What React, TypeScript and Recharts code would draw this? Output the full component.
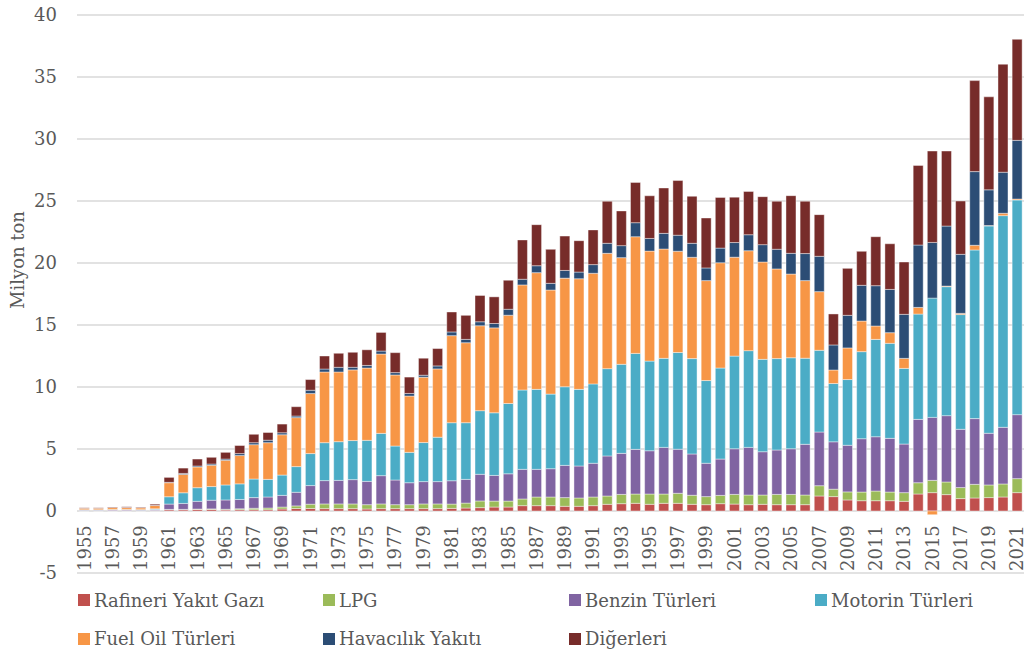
import React from 'react';
import { BarChart, Bar, XAxis, YAxis, CartesianGrid, Legend } from 'recharts';

const YEARS: string[] = [];
for (let y = 1955; y <= 2021; y++) YEARS.push(String(y));

const RAFINERI = [0.02,0.02,0.02,0.02,0.02,0.03,0.1,0.1,0.13,0.13,0.08,0.1,0.1,0.1,0.16,0.2,0.2,0.19,0.19,0.19,0.16,0.19,0.19,0.19,0.19,0.19,0.21,0.24,0.27,0.32,0.32,0.43,0.43,0.43,0.38,0.38,0.43,0.54,0.59,0.62,0.54,0.62,0.62,0.54,0.51,0.59,0.56,0.51,0.54,0.51,0.51,0.51,1.21,1.16,0.89,0.83,0.83,0.83,0.78,1.37,1.48,1.32,1.0,1.05,1.08,1.13,1.48];
const LPG = [0,0,0,0,0,0.01,0.03,0.03,0.03,0.04,0.06,0.08,0.12,0.14,0.16,0.21,0.35,0.38,0.38,0.38,0.35,0.38,0.32,0.32,0.38,0.38,0.35,0.4,0.54,0.48,0.48,0.54,0.7,0.7,0.7,0.67,0.7,0.67,0.75,0.75,0.83,0.75,0.81,0.73,0.65,0.67,0.78,0.78,0.75,0.83,0.83,0.78,0.83,0.6,0.65,0.7,0.78,0.7,0.7,0.91,0.99,1.02,0.89,1.1,1.02,1.05,1.13];
const BENZIN = [0.05,0.05,0.06,0.06,0.05,0.08,0.43,0.48,0.62,0.7,0.75,0.75,0.86,0.89,0.94,1.1,1.5,1.88,1.9,1.96,1.88,2.28,1.99,1.77,1.8,1.8,1.88,1.91,2.15,2.07,2.2,2.39,2.23,2.28,2.6,2.58,2.72,3.23,3.31,3.6,3.49,3.76,3.55,3.33,2.69,2.93,3.68,3.84,3.49,3.58,3.68,4.09,4.33,3.82,3.76,4.3,4.38,4.33,3.92,5.11,5.08,5.35,4.7,5.3,4.17,4.57,5.16];
const MOTORIN = [0.03,0.03,0.04,0.04,0.04,0.06,0.59,0.86,1.1,1.1,1.21,1.26,1.5,1.42,1.64,2.07,2.58,3.06,3.12,3.15,3.31,3.41,2.74,2.45,3.15,3.58,4.68,4.57,5.13,5.05,5.67,6.4,6.45,6.02,6.34,6.18,6.4,7.04,7.18,7.74,7.23,7.18,7.8,7.69,6.67,7.34,7.47,7.8,7.45,7.37,7.34,6.94,6.59,4.7,5.3,7.02,7.85,7.66,6.1,8.49,9.62,10.4,9.25,13.6,16.72,17.07,17.31];
const FUEL_OIL = [0.12,0.12,0.15,0.15,0.14,0.26,1.13,1.48,1.67,1.72,1.99,2.28,2.77,2.96,3.25,3.95,4.84,5.7,5.62,5.7,5.83,6.4,5.73,4.54,5.27,5.51,7.02,6.45,6.85,6.85,7.12,8.47,9.41,8.39,8.76,8.92,8.92,9.3,8.6,9.41,8.87,8.82,8.17,8.17,8.06,8.49,7.98,8.06,7.85,7.23,6.75,6.26,4.73,1.09,2.55,2.47,1.08,0.86,0.81,0.54,-0.3,0.05,0.1,0.38,0.03,0.19,0.08];
const HAVACILIK = [0,0,0,0.01,0,0.01,0.03,0.08,0.08,0.1,0.1,0.16,0.16,0.2,0.16,0.13,0.27,0.24,0.38,0.21,0.21,0.24,0.19,0.21,0.16,0.24,0.3,0.27,0.32,0.35,0.48,0.46,0.56,0.54,0.62,0.54,0.7,0.81,0.97,1.13,1.02,1.26,1.29,1.13,1.02,1.18,1.18,1.29,1.4,1.59,1.67,2.18,2.85,2.02,2.63,2.88,3.25,3.49,3.55,5.03,4.49,4.84,4.76,5.94,2.88,3.31,4.73];
const DIGERLERI = [0.04,0.04,0.05,0.07,0.05,0.1,0.4,0.43,0.56,0.54,0.54,0.65,0.67,0.62,0.7,0.75,0.86,1.05,1.13,1.21,1.26,1.5,1.61,1.32,1.37,1.4,1.61,1.94,2.12,2.15,2.34,3.17,3.31,2.74,2.77,2.53,2.8,3.39,2.8,3.25,3.44,3.66,4.41,3.79,4.03,4.09,3.66,3.49,3.87,3.87,4.65,4.22,3.36,2.5,3.79,2.74,3.95,3.68,4.22,6.42,7.37,6.05,4.3,7.34,7.5,8.71,8.15];

const Y_TICKS = [-5, 0, 5, 10, 15, 20, 25, 30, 35, 40];

const SERIES = [
  { key: 'raf', name: 'Rafineri Yakıt Gazı', color: '#C0504D', values: RAFINERI },
  { key: 'lpg', name: 'LPG', color: '#9BBB59', values: LPG },
  { key: 'benz', name: 'Benzin Türleri', color: '#8064A2', values: BENZIN },
  { key: 'mot', name: 'Motorin Türleri', color: '#4BACC6', values: MOTORIN },
  { key: 'fo', name: 'Fuel Oil Türleri', color: '#F79646', values: FUEL_OIL },
  { key: 'hav', name: 'Havacılık Yakıtı', color: '#2C4D75', values: HAVACILIK },
  { key: 'dig', name: 'Diğerleri', color: '#772C2A', values: DIGERLERI },
];

const LEGEND_ORDER = ['raf', 'lpg', 'benz', 'mot', 'fo', 'hav', 'dig'];

const data = YEARS.map((year, i) => {
  const row: any = { year };
  SERIES.forEach((s) => { row[s.key] = s.values[i]; });
  return row;
});

const FONT = '"DejaVu Serif", serif';
const TEXT = '#595959';

const XTick = (props: any) => {
  const { x, y, payload } = props;
  const ay = y - 2;
  return (
    <text x={x} y={ay} transform={`rotate(-90 ${x} ${ay})`} textAnchor="start" dy="0.36em"
      fontFamily={FONT} fontSize={18} fill={TEXT}>{payload.value}</text>
  );
};

const renderLegend = () => {
  const cols = [78, 323, 569, 815];
  return (
    <div style={{ position: 'relative', width: 1024, height: 50, fontFamily: FONT, fontSize: 18, color: TEXT }}>
      {LEGEND_ORDER.map((k, i) => {
        const s = SERIES.find((q) => q.key === k)!;
        const col = i < 4 ? i : i - 4;
        const row = i < 4 ? 0 : 1;
        return (
          <div key={k} style={{ position: 'absolute', left: cols[col], top: -3 + row * 38.5 - 11, height: 22, display: 'flex', alignItems: 'center', whiteSpace: 'nowrap' }}>
            <span style={{ display: 'inline-block', width: 12, height: 12, background: s.color, marginRight: 4 }} />
            <span>{s.name}</span>
          </div>
        );
      })}
    </div>
  );
};

export default function App() {
  return (
    <div style={{ position: 'absolute', left: 0, top: 0, width: 1024, height: 653, background: '#fff' }}>
      <BarChart width={1024} height={653} data={data} stackOffset="sign" barCategoryGap="16%"
        margin={{ top: 15, right: 0, left: 0, bottom: 0 }}>
        <CartesianGrid vertical={false} stroke="#d9d9d9" strokeWidth={1.5} />
        <XAxis dataKey="year" interval={1} height={30} axisLine={false} tickLine={false}
          tickSize={0} tickMargin={0} tick={<XTick />} />
        <YAxis width={77} domain={[-5, 40]} ticks={Y_TICKS} axisLine={false} tickLine={false}
          tickSize={0} tickMargin={20} allowDataOverflow
          tick={{ fontFamily: FONT, fontSize: 18, fill: TEXT }}
          label={{
            content: (p: any) => {
              const vb = p.viewBox || { x: 0, y: 15, width: 77, height: 558 };
              const cx = vb.x + 18;
              const cy = vb.y + vb.height / 2 - 34;
              return (
                <text x={cx} y={cy} transform={`rotate(-90 ${cx} ${cy})`} textAnchor="middle" dy="0.36em"
                  fontFamily={FONT} fontSize={18} fill={TEXT}>Milyon ton</text>
              );
            },
          }} />
        <Legend verticalAlign="bottom" content={renderLegend} wrapperStyle={{ left: 0, width: 1024 }} />
        {SERIES.map((s) => (
          <Bar key={s.key} dataKey={s.key} name={s.name} stackId="a" fill={s.color}
            stroke="#ffffff" strokeOpacity={0.55} strokeWidth={0.75} isAnimationActive={false} />
        ))}
      </BarChart>
    </div>
  );
}
